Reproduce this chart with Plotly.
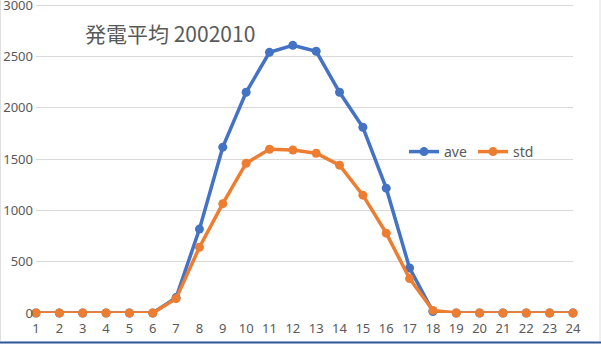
import plotly.graph_objects as go

hours = list(range(1, 25))
ave = [0, 0, 0, 0, 0, 0, 150, 817, 1615, 2150, 2539, 2607,
       2549, 2150, 1809, 1216, 438, 15, 0, 0, 0, 0, 0, 0]
std = [0, 0, 0, 0, 0, 0, 140, 640, 1065, 1459, 1595, 1588,
       1556, 1440, 1148, 778, 335, 25, 0, 0, 0, 0, 0, 0]
y_ticks = [0, 500, 1000, 1500, 2000, 2500, 3000]

W, H = 601, 344
L, R, T, B = 36, 28, 2, 31
pw, ph = W - L - R, H - T - B
# 3000 sits 5px below the top edge of the figure
y_top = 3000 * ph / (H - B - 5)

BLUE = "#4472C4"
ORANGE = "#ED7D31"
GRAY = "#595959"
FONT = "Noto Sans, Open Sans, sans-serif"

fig = go.Figure()
for name, vals, col in [("ave", ave, BLUE), ("std", std, ORANGE)]:
    fig.add_trace(go.Scatter(
        x=hours, y=vals, name=name, mode="lines+markers",
        line=dict(color=col, width=3.5),
        marker=dict(color=col, size=9),
        cliponaxis=False,
    ))

def px_x(p):
    return (p - L) / pw

def px_y(p):
    return (H - B - p) / ph

fig.update_layout(
    width=W, height=H,
    margin=dict(l=L, r=R, t=T, b=B, autoexpand=False),
    paper_bgcolor="white", plot_bgcolor="white",
    font=dict(family=FONT, color=GRAY, size=13),
    showlegend=True,
    legend=dict(orientation="h", x=px_x(404), y=px_y(136), xanchor="left",
                yanchor="top", bgcolor="rgba(0,0,0,0)",
                font=dict(size=14, color=GRAY), itemwidth=30,
                entrywidth=24, tracegroupgap=0),
    xaxis=dict(range=[1, 24], tickmode="array", tickvals=hours,
               ticktext=[str(h) for h in hours], showgrid=False,
               zeroline=False, showline=False, ticks="", automargin=False,
               tickfont=dict(size=13, color=GRAY), ticklabelstandoff=6),
    yaxis=dict(range=[0, y_top], tickmode="array", tickvals=y_ticks,
               showgrid=True, gridcolor="#D9D9D9", gridwidth=1,
               zeroline=False, showline=False, ticks="", automargin=False,
               ticklabeloverflow="allow",
               tickfont=dict(size=13, color=GRAY), ticklabelstandoff=2),
    annotations=[dict(
        text="発電平均 2002010", xref="paper", yref="paper",
        x=px_x(83), y=px_y(33), xanchor="left", yanchor="middle",
        showarrow=False,
        font=dict(family="Noto Sans CJK JP, sans-serif", size=21, color=GRAY),
    )],
    shapes=[
        dict(type="line", xref="paper", yref="paper",
             x0=px_x(0), x1=px_x(W), y0=px_y(342.5), y1=px_y(342.5),
             line=dict(color="#2F5597", width=2)),
        dict(type="line", xref="paper", yref="paper",
             x0=px_x(600), x1=px_x(600), y0=px_y(0), y1=px_y(341),
             line=dict(color="#E0E0E0", width=1)),
        dict(type="line", xref="paper", yref="paper",
             x0=px_x(0.5), x1=px_x(0.5), y0=px_y(0), y1=px_y(341),
             line=dict(color="#E0E0E0", width=1)),
    ],
)

fig.write_html("out.html")
